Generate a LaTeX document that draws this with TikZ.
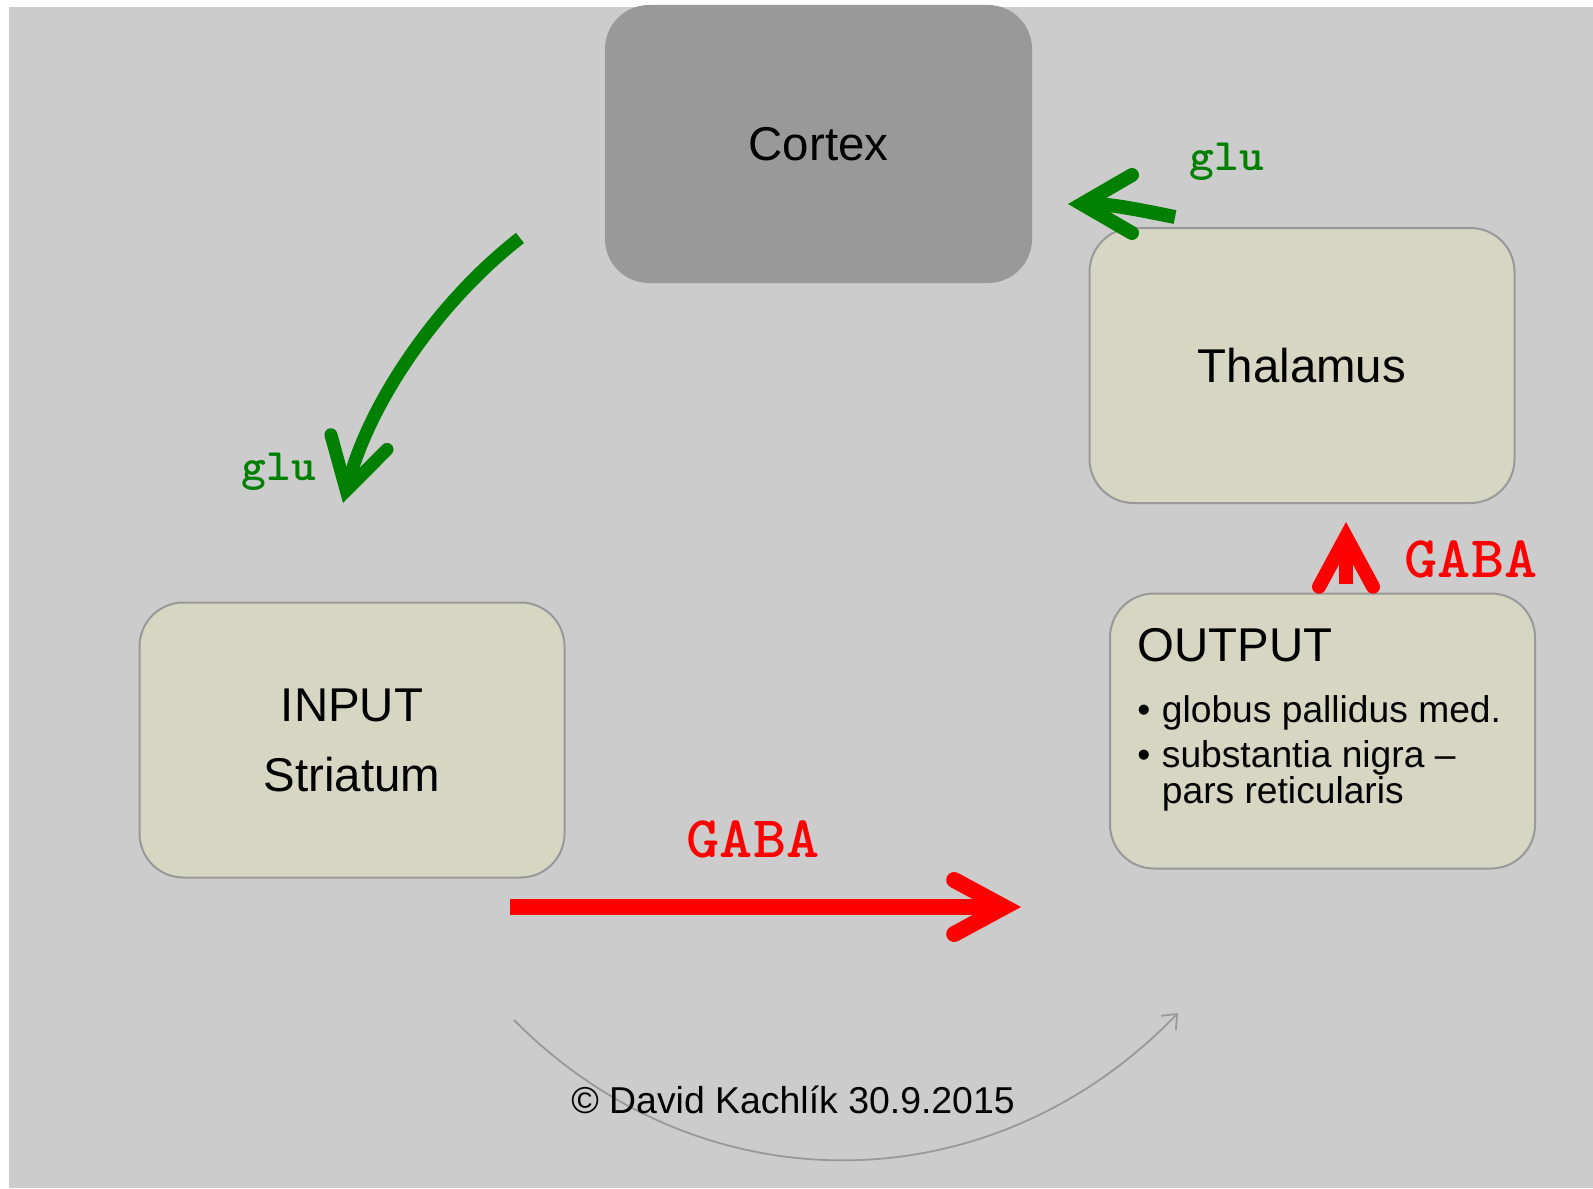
\documentclass[tikz,border=0pt]{standalone}
\usepackage{fontspec}
\setmainfont{Liberation Sans}
\usetikzlibrary{arrows.meta}
\definecolor{bggray}{HTML}{CCCCCC}
\definecolor{cortexgray}{HTML}{999999}
\definecolor{bordergray}{HTML}{999999}
\definecolor{boxfill}{HTML}{D6D6C2}
\definecolor{glugreen}{HTML}{008000}
\definecolor{gabared}{HTML}{FF0000}
\tikzset{
  box/.style={rectangle, rounded corners=22pt, draw=bordergray, line width=1pt,
    fill=boxfill, minimum width=212.5pt, minimum height=137.5pt, inner sep=0pt,
    align=center, font=\fontsize{23.7}{35}\selectfont},
  cortexbox/.style={box, draw=none, fill=cortexgray},
  outtext/.style={anchor=base west, inner sep=0pt, font=\fontsize{18.6}{22}\selectfont},
  glulabel/.style={anchor=base, inner sep=0pt, text=glugreen, xscale=1.05, font=\ttfamily\bfseries\fontsize{22.5}{24}\selectfont},
  gabalabel/.style={anchor=base, inner sep=0pt, text=gabared, xscale=1.07, font=\ttfamily\bfseries\fontsize{29.5}{32}\selectfont},
  gluarrow/.style={draw=glugreen, line width=6.5pt,
    -{Straight Barb[length=25pt, width=29pt, line cap=round, line join=miter]}},
  gabaarrow/.style={draw=gabared, line width=8pt,
    -{Straight Barb[length=25pt, width=27pt, line cap=round, line join=miter]}},
  looparrow/.style={draw=bordergray, line width=0.9pt,
    -{Straight Barb[length=6pt, width=10pt, line cap=round]}},
}
\begin{document}
\begin{tikzpicture}[x=0.5pt, y=-0.5pt]
\useasboundingbox (0,0) rectangle (1593,1188);
\fill[bggray] (9,7) rectangle (1593,1188);

% boxes
\node[cortexbox, minimum width=213.5pt, minimum height=139pt] (cortex) at (818.5,144) {Cortex};
\node[box] (thalamus) at (1302,365.5) {Thalamus};
\node[box] (input) at (352,740) {INPUT\\Striatum};
\node[box] (output) at (1322.5,731) {};

% output text
\node[outtext, font=\fontsize{23.7}{28}\selectfont] (outtitle) at (1137,661) {OUTPUT};
\node[outtext] (bulA) at (1137,722) {•};
\node[outtext] (outA) at (1161.5,722) {globus pallidus med.};
\node[outtext] (bulB) at (1137,767) {•};
\node[outtext] (outB) at (1161.5,767) {substantia nigra –};
\node[outtext] (outC) at (1161.5,803) {pars reticularis};

% arrow end points
\coordinate (cxout) at (520,238);
\coordinate (inin) at (343,503);
\coordinate (thout) at (1175,217);
\coordinate (cxin) at (1068,204);
\coordinate (inout) at (510,907);
\coordinate (outin) at (1021,907);
\coordinate (outup) at (1346,584);
\coordinate (thin) at (1346,522);
\coordinate (loopA) at (514,1020);
\coordinate (loopB) at (1178,1013);

% connectors
\draw[gluarrow] (cxout) .. controls (440,300) and (370,400) .. (inin);
\draw[gluarrow, line width=7pt] (thout) .. controls (1130,208) and (1110,204) .. (cxin);
\draw[gabaarrow] (inout) -- (outin);
\draw[gabaarrow, line width=7pt] (outup) -- (thin);
\draw[looparrow] (loopA) .. controls (700,1208) and (990,1208) .. (loopB);

% labels
\node[glulabel] (gluA) at (1227,170) {glu};
\node[glulabel] (gluB) at (279,480) {glu};
\node[gabalabel] (gabaA) at (1471,577) {GABA};
\node[gabalabel] (gabaB) at (753,857) {GABA};

\node[anchor=base, inner sep=0pt, font=\fontsize{18.7}{22}\selectfont] (copy) at (793,1113) {© David Kachlík 30.9.2015};
\end{tikzpicture}
\end{document}
